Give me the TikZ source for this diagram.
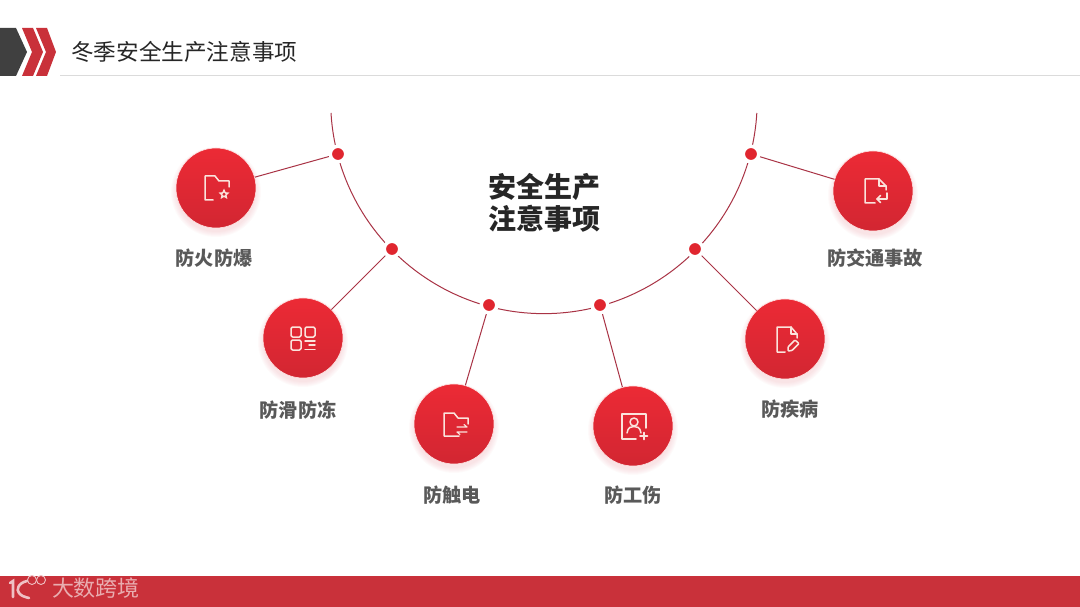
\documentclass[tikz,border=0pt]{standalone}
\usepackage{fontspec}
\setmainfont{Noto Sans CJK SC}
\usepackage{tikz}
\usetikzlibrary{arrows.meta,positioning,calc}

\definecolor{riskred}{HTML}{C9313A}
\definecolor{dotred}{HTML}{E0262F}
\definecolor{arcred}{HTML}{A93345}
\definecolor{icontint}{HTML}{FBE3DC}
\definecolor{labelgray}{HTML}{595959}
\definecolor{circletop}{HTML}{EC2A35}
\definecolor{circlebottom}{HTML}{D22632}

\tikzset{
    riskcircle/.style={circle, minimum size=80pt, inner sep=0pt, top color=circletop, bottom color=circlebottom, draw=white!90!red, line width=0.6pt},
    riskdot/.style={circle, minimum size=15.5pt, inner sep=0pt, fill=dotred, draw=white, line width=3.5pt},
    risklabel/.style={font=\bfseries\fontsize{19.2}{21}\selectfont, text=labelgray},
    linkline/.style={arcred, line width=1pt},
    iconline/.style={icontint, line width=1.5pt, line join=round, line cap=round},
    folderstar/.pic={
        \draw[iconline] (-3,12) -- (-11,12) -- (-11,-12) -- (-1,-12) -- (3,-7) -- (13,-7) -- (13,-1);
        \fill[icontint] (8,0.5) -- (9.6,4.2) -- (13.5,4.6) -- (10.6,7.2) -- (11.4,11) -- (8,9) -- (4.6,11) -- (5.4,7.2) -- (2.5,4.6) -- (6.4,4.2) -- cycle;
        \fill[circlebottom] (8,6.2) circle[radius=1.6];
    },
    gridmark/.pic={
        \draw[iconline, rounded corners=1.5pt] (-12,-11) rectangle (-2,-1);
        \draw[iconline, rounded corners=1.5pt] (2,-11) rectangle (12,-1);
        \draw[iconline, rounded corners=1.5pt] (-12,2) rectangle (-2,12);
        \draw[iconline] (2,3) -- (12,3);
        \draw[iconline] (6,7) -- (12,7);
        \draw[iconline] (2,11.5) -- (12,11.5);
    },
    folderswap/.pic={
        \draw[iconline] (5,12) -- (-10,12) -- (-10,-11) -- (0,-11) -- (4,-6) -- (14,-6) -- (14,0);
        \draw[iconline, line width=1.2pt] (3,3) -- (13,3) -- (10,0.5);
        \draw[iconline, line width=1.2pt] (13,8) -- (3,8) -- (6,10.5);
    },
    personframe/.pic={
        \draw[iconline] (3,13) -- (-11,13) -- (-11,-12) -- (13,-12) -- (13,2);
        \draw[iconline] (1,-4) circle[radius=4];
        \draw[iconline] (-6,7) .. controls (-5,1) and (-2,0.5) .. (1,0.5) .. controls (4,0.5) and (7,1) .. (8,7);
        \draw[iconline, line width=1.9pt] (7,10) -- (14.5,10);
        \draw[iconline, line width=1.9pt] (10.7,6.5) -- (10.7,13.5);
    },
    docpen/.pic={
        \draw[iconline] (0,13) -- (-8,13) -- (-8,-12) -- (6,-12) -- (12,-5) -- (12,-1);
        \draw[iconline] (6,-12) -- (6,-5) -- (12,-5);
        \draw[iconline, rounded corners=0.8pt] (3,8) -- (10,1) -- (14,4.5) -- (7,11.5) -- (3,12) -- cycle;
    },
    docreturn/.pic={
        \draw[iconline] (2,12) -- (-8,12) -- (-8,-12) -- (6,-12) -- (13,-5) -- (13,-1);
        \draw[iconline] (6,-12) -- (6,-5) -- (13,-5);
        \draw[iconline] (14,2) -- (14,8) -- (4,8);
        \draw[iconline] (7.5,4.5) -- (4,8) -- (7.5,11.5);
    },
}

\begin{document}
\begin{tikzpicture}[x=1pt, y=-1pt]
    \useasboundingbox[fill=white] (0,0) rectangle (1080,607);

    % header
    \fill[black!75] (0,28) -- (16,28) -- (27,52) -- (16,76) -- (0,76) -- cycle;
    \fill[riskred] (22,28) -- (33,28) -- (43,52) -- (33,76) -- (22,76) -- (32,52) -- cycle;
    \fill[riskred] (36,28) -- (47,28) -- (56,52) -- (47,76) -- (36,76) -- (46,52) -- cycle;
    \draw[black!14, line width=1pt] (60,76) -- (1080,76);
    \node[anchor=west, inner sep=0pt, text=black!85, font=\fontsize{22.6}{24}\selectfont] (title) at (71,52) {冬季安全生产注意事项};

    % footer
    \fill[riskred] (0,576) rectangle (1080,607);
    \draw[white!70!riskred, line width=2.6pt, line cap=round] (10,583) -- (13,581) -- (13,597);
    \draw[white!70!riskred, line width=2.6pt, line cap=round] (27,581) .. controls (18,583) and (16,590) .. (19,593) .. controls (21,596) and (25,597) .. (29,598);
    \draw[white!70!riskred, line width=0.9pt] (32,580) circle[radius=4.5];
    \draw[white!70!riskred, line width=0.9pt] (41,580) circle[radius=4.5];
    \node[inner sep=0pt, text=white!60!riskred, font=\fontsize{22}{24}\selectfont] (brand) at (96,588) {大数跨境};

    % arc and centre
    \draw[linkline] (331,113) arc[start angle=176.6, end angle=3.4, radius=213.3];
    \node[align=center, inner sep=0pt, text=black!85, font=\bfseries\fontsize{28}{32}\selectfont] (topic) at (544,203) {安全生产\\注意事项};

    % soft glow under the circles
    \foreach \x/\y in {216/188, 303/338, 454/424, 633/426, 785/339, 873/191}
        \foreach \r in {40,41,...,45}
            \fill[dotred, opacity=0.02] (\x,\y+4) circle[radius=\r];

    \node[riskdot] (d1) at (338,154) {};
    \node[riskdot] (d2) at (392,249) {};
    \node[riskdot] (d3) at (489,305) {};
    \node[riskdot] (d4) at (600,305) {};
    \node[riskdot] (d5) at (695,249) {};
    \node[riskdot] (d6) at (751,154) {};

    \node[riskcircle] (fire) at (216,188) {};
    \node[riskcircle] (slip) at (303,338) {};
    \node[riskcircle] (shock) at (454,424) {};
    \node[riskcircle] (injury) at (633,426) {};
    \node[riskcircle] (disease) at (785,339) {};
    \node[riskcircle] (traffic) at (873,191) {};

    \draw[linkline] (d1) -- (fire);
    \draw[linkline] (d2) -- (slip);
    \draw[linkline] (d3) -- (shock);
    \draw[linkline] (d4) -- (injury);
    \draw[linkline] (d5) -- (disease);
    \draw[linkline] (d6) -- (traffic);

    \pic at (216,188) {folderstar};
    \pic at (303,338) {gridmark};
    \pic at (454,424) {folderswap};
    \pic at (633,426) {personframe};
    \pic at (785,339) {docpen};
    \pic at (873,191) {docreturn};

    \node[risklabel] (firetext) at (214,258) {防火防爆};
    \node[risklabel] (sliptext) at (298,410) {防滑防冻};
    \node[risklabel] (shocktext) at (452,495) {防触电};
    \node[risklabel] (injurytext) at (633,495) {防工伤};
    \node[risklabel] (diseasetext) at (790,409) {防疾病};
    \node[risklabel] (traffictext) at (875,258) {防交通事故};
\end{tikzpicture}
\end{document}
